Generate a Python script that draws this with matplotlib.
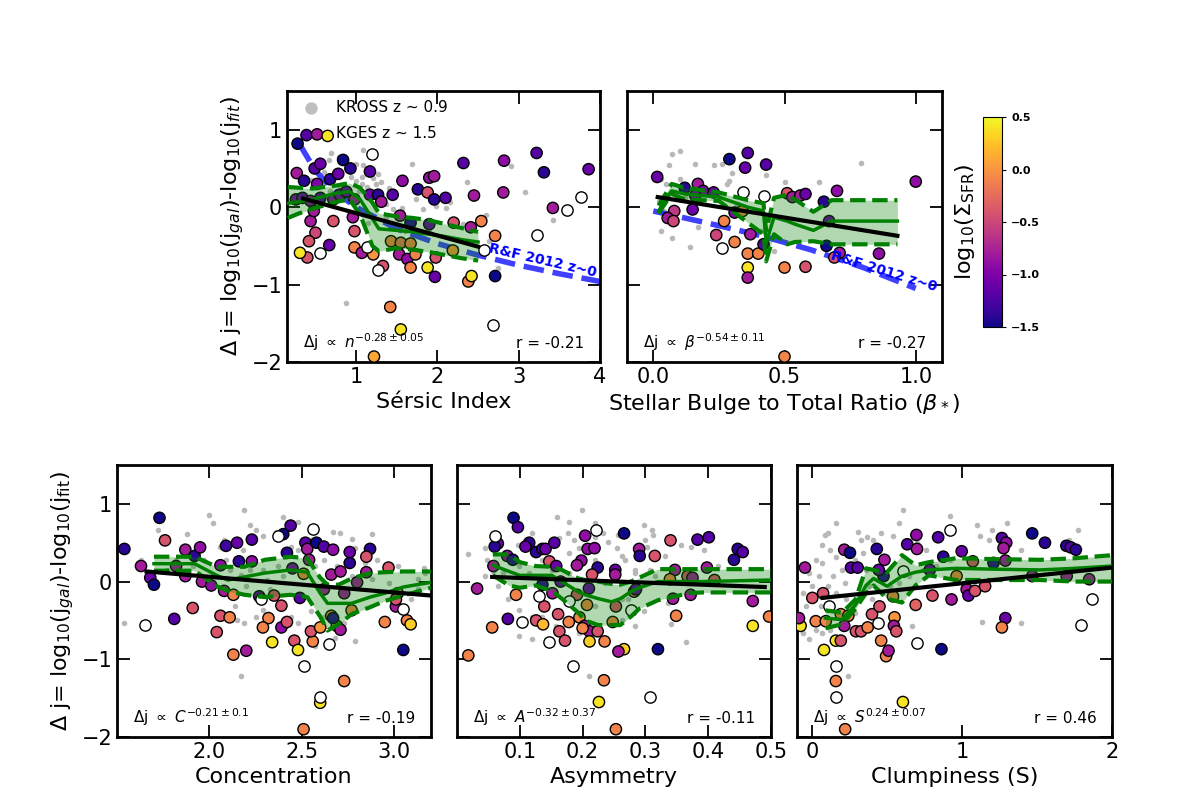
import numpy as np
import matplotlib
matplotlib.use('Agg')
import matplotlib.pyplot as plt
from matplotlib.colors import Normalize

# ---------------- data ----------------
# Sersic index panel
n_kges = [0.28, 0.39, 0.52, 0.65, 0.27, 0.49, 0.56, 0.36, 0.52, 0.68, 0.78, 0.84, 0.93, 1.17,
          0.26, 0.34, 0.44, 0.56, 0.72, 0.80, 0.88, 0.98, 0.96, 0.98, 0.44, 0.50, 0.42, 0.40,
          0.31, 0.67, 0.72, 0.48, 0.98, 1.07, 1.21, 1.33, 1.17, 1.27, 1.31, 1.45, 1.57, 1.76,
          1.90, 1.96, 1.88, 1.96, 2.10, 1.54, 1.43, 1.55, 1.67, 1.67, 1.90, 1.53, 1.63, 1.73,
          1.67, 1.88, 1.98, 1.97, 2.20, 2.19, 2.41, 2.54, 2.71, 2.38, 2.42, 2.71, 1.42, 1.55,
          1.22, 2.32, 2.82, 3.22, 3.31, 3.86, 2.81, 2.45, 3.42]
dj_n_kges = [0.82, 0.93, 0.94, 0.92, 0.44, 0.50, 0.56, 0.34, 0.30, 0.36, 0.43, 0.61, 0.50, 0.46,
             0.10, 0.12, 0.08, 0.12, 0.10, 0.16, 0.20, 0.10, -0.13, -0.31, -0.18, -0.33, -0.44, -0.65,
             -0.59, -0.49, -0.18, -0.05, -0.52, -0.59, -0.61, -0.76, 0.16, 0.16, 0.07, 0.16, 0.34, 0.23,
             0.38, 0.40, 0.19, 0.10, 0.12, -0.11, -0.44, -0.46, -0.47, -0.20, -0.22, -0.61, -0.67, -0.61,
             -0.78, -0.78, -0.65, -0.90, -0.20, -0.56, -0.26, -0.18, -0.37, -0.96, -0.89, -0.89, -1.29, -1.58,
             -1.93, 0.57, 0.60, 0.70, 0.45, 0.49, 0.19, 0.15, -0.01]
sfr_n_kges = [-1.5, -1.2, -0.8, 0.4, -0.8, -1.2, -1.1, -1.4, -1.0, -1.4, -1.1, -1.5, -1.4, -1.2,
              -1.0, -1.1, -0.9, -1.2, -0.9, -1.0, -1.1, -0.8, -0.8, -0.4, -0.8, -0.5, -0.4, -0.4,
              0.4, -1.1, -0.4, -0.8, -0.1, -0.8, 0.0, -0.4, -1.1, -1.4, -0.8, -1.2, -0.9, -1.4,
              -0.9, -0.8, -0.4, -1.4, -1.2, -0.8, -0.1, -0.2, -0.1, -1.4, -1.1, -0.8, -0.9, -0.1,
              -0.1, 0.4, -0.4, -1.1, -0.4, 0.0, -0.8, -0.1, -0.1, -0.1, 0.4, -1.5, -0.1, 0.4,
              0.1, -1.2, -0.9, -1.2, -1.4, -1.1, -0.8, -0.8, -0.8]
n_open = [1.19, 0.56, 1.13, 1.27, 2.57, 2.68, 3.59, 3.77, 3.22]
dj_n_open = [0.68, -0.59, -0.52, -0.81, -0.55, -1.52, -0.04, 0.13, -0.36]
n_kross = [0.69, 0.79, 0.67, 1.00, 1.08, 1.08, 0.88, 1.17, 1.25, 1.31, 1.07, 1.13, 1.21, 1.27,
           1.69, 2.37, 3.08, 2.90, 3.42, 0.88, 1.00, 0.94, 1.07, 1.13, 1.17, 1.03, 1.25, 1.29,
           1.37, 1.45, 1.51, 1.57, 1.74, 2.10, 2.15, 1.98, 1.82, 2.32, 2.63, 2.75, 0.84, 0.80,
           0.68, 1.37, 1.15, 1.60, 1.90, 0.60, 0.45, 0.95, 2.60, 1.40]
dj_n_kross = [0.70, 0.65, 0.61, 0.56, 0.54, 0.74, 0.56, 0.52, 0.30, 0.32, 0.39, 0.43, 0.37, 0.43,
              0.56, 0.32, 0.19, 0.53, -0.16, -1.24, 0.34, 0.39, 0.30, 0.26, 0.21, 0.21, 0.21, 0.12,
              0.04, -0.02, -0.07, -0.01, 0.10, -0.01, 0.06, 0.01, -0.03, -0.22, -0.44, -0.78, 0.30, 0.26,
              0.21, -0.13, -0.20, -0.31, -0.31, 0.45, 0.35, 0.48, -0.10, 0.25]
n_bin = [0.16, 0.30, 0.47, 0.60, 0.76, 0.92, 1.05, 1.20, 1.28, 1.50, 1.70, 1.90, 2.10, 2.30, 2.50]
n_med = [0.05, 0.07, 0.10, 0.14, 0.18, 0.20, 0.10, -0.15, -0.28, -0.30, -0.32, -0.35, -0.38, -0.42, -0.45]
n_lo = [-0.14, -0.08, -0.02, 0.02, 0.07, 0.10, -0.10, -0.50, -0.57, -0.53, -0.55, -0.58, -0.62, -0.66, -0.69]
n_hi = [0.26, 0.25, 0.24, 0.26, 0.28, 0.31, 0.25, 0.06, -0.08, -0.12, -0.14, -0.17, -0.22, -0.27, -0.32]
n_fit_x = [0.35, 2.50]
n_fit_y = [0.11, -0.51]
n_rf_x = [0.30, 0.50, 0.75, 1.00, 1.50, 2.00, 2.50, 3.00, 3.50, 4.00]
n_rf_y = [0.82, 0.47, 0.19, 0.00, -0.28, -0.47, -0.62, -0.75, -0.86, -0.96]

# bulge-to-total panel
bt_kges = [0.36, 0.29, 0.35, 0.43, 0.015, 0.17, 0.12, 0.19, 0.23, 0.51, 0.53, 0.56, 0.58, 0.70,
           0.65, 1.00, 0.08, 0.055, 0.077, 0.15, 0.31, 0.34, 0.27, 0.24, 0.31, 0.37, 0.36, 0.40,
           0.42, 0.36, 0.36, 0.50, 0.58, 0.66, 0.67, 0.71, 0.69, 0.86, 0.50, 0.16]
dj_bt_kges = [0.70, 0.62, 0.51, 0.55, 0.39, 0.30, 0.25, 0.21, 0.19, 0.18, 0.13, 0.15, 0.17, 0.21,
              0.07, 0.33, -0.05, -0.14, -0.18, -0.03, -0.07, -0.05, -0.18, -0.36, -0.45, -0.35, -0.60, -0.60,
              -0.48, -0.78, -0.91, -0.78, -0.77, -0.50, -0.18, -0.59, -0.65, -0.60, -1.93, 0.15]
sfr_bt_kges = [-1.2, -1.5, -1.1, -1.2, -1.1, -0.8, -1.4, -1.0, -1.1, -0.4, -0.8, -0.8, -1.1, -0.9,
               -1.4, -0.9, -0.6, -0.8, -0.5, -1.1, -1.0, -0.1, -0.1, -0.5, -0.1, -0.8, -0.1, -0.1,
               -1.2, 0.4, -0.8, -0.1, -0.4, -1.5, -1.1, -0.8, -0.4, -0.9, -0.1, -1.0]
bt_open = [0.34, 0.42, 0.26]
dj_bt_open = [0.19, 0.14, -0.53]
bt_kross = [0.10, 0.07, 0.06, 0.16, 0.23, 0.26, 0.30, 0.10, 0.03, 0.05, 0.28, 0.29, 0.43, 0.50,
            0.63, 0.79, 0.03, 0.07, 0.14, 0.04, 0.02, 0.17, 0.32, 0.25, 0.12, 0.06, 0.41, 0.64, 0.46]
dj_bt_kross = [0.73, 0.69, 0.54, 0.56, 0.55, 0.56, 0.44, 0.36, 0.36, 0.30, 0.30, 0.34, 0.41, 0.32,
               0.32, 0.57, -0.31, -0.40, -0.52, -0.05, 0.08, -0.26, 0.04, 0.13, 0.13, 0.17, -0.31, -0.22, -0.57]
bt_bin = [0.02, 0.07, 0.12, 0.25, 0.36, 0.42, 0.43, 0.46, 0.51, 0.54, 0.61, 0.68, 0.93]
bt_med = [-0.05, 0.21, 0.17, 0.13, 0.00, -0.05, -0.46, -0.13, -0.18, -0.22, -0.30, -0.18, -0.18]
bt_lo = [-0.08, 0.17, 0.10, 0.08, -0.20, -0.35, -0.70, -0.35, -0.48, -0.45, -0.44, -0.48, -0.48]
bt_hi = [0.02, 0.30, 0.25, 0.19, 0.09, 0.05, -0.30, 0.12, 0.16, 0.10, -0.06, 0.09, 0.09]
bt_fit_x = [0.017, 0.93]
bt_fit_y = [0.13, -0.37]
bt_rf_x = [0.00, 0.20, 0.40, 0.60, 0.80, 1.00]
bt_rf_y = [-0.05, -0.20, -0.36, -0.55, -0.78, -1.05]

# concentration panel
c_kges = [1.54, 1.73, 1.76, 1.63, 1.68, 1.70, 1.87, 1.92, 1.95, 1.82, 1.87, 1.96, 2.01, 1.91,
          1.81, 2.09, 2.15, 2.23, 2.16, 2.06, 2.23, 2.08, 2.13, 2.06, 2.11, 2.04, 2.13, 2.20,
          2.27, 2.35, 2.39, 2.32, 2.29, 2.34, 2.39, 2.42, 2.40, 2.44, 2.42, 2.45, 2.52, 2.53,
          2.58, 2.62, 2.67, 2.54, 2.51, 2.49, 2.46, 2.48, 2.56, 2.60, 2.51, 2.73, 2.55, 2.60,
          2.66, 2.69, 2.71, 2.67, 2.66, 2.71, 2.76, 2.76, 2.80, 2.87, 2.85, 2.85, 2.97, 2.73,
          2.77, 2.95, 3.02, 3.01, 3.01, 3.07, 3.09, 3.05, 2.62]
dj_c_kges = [0.42, 0.82, 0.53, 0.20, 0.05, -0.04, 0.41, 0.33, 0.44, 0.20, 0.07, 0.00, -0.05, -0.34,
             -0.48, 0.46, 0.50, 0.54, 0.26, 0.21, 0.26, -0.12, -0.17, -0.44, -0.46, -0.65, -0.94, -0.89,
             -0.19, -0.18, -0.31, -0.47, -0.59, -0.78, -0.59, -0.52, 0.61, 0.72, 0.37, 0.17, 0.50, 0.42,
             0.50, 0.45, 0.41, 0.28, 0.10, -0.21, -0.76, -0.88, -0.77, -1.56, -1.90, -1.28, -0.64, -0.59,
             -0.44, -0.57, -0.62, -0.47, 0.09, 0.13, 0.24, 0.38, -0.01, 0.42, 0.32, 0.12, 0.18, -0.15,
             -0.37, -0.52, -0.15, -0.32, -0.23, -0.50, -0.55, -0.88, -0.10]
sfr_c_kges = [-1.4, -1.5, -0.4, -0.8, -1.1, -1.5, -0.8, -1.4, -0.9, -0.8, -0.8, -0.8, -0.9, -0.4,
              -1.2, -1.3, -1.1, -1.2, -1.4, -0.9, -0.9, -0.8, -0.1, -0.4, -0.1, -0.4, -0.1, -0.8,
              -1.1, -0.4, -0.4, -0.1, -0.1, 0.4, -0.9, -0.4, -1.5, -1.2, -1.4, -1.0, -1.2, -0.8,
              -1.5, -1.2, -0.9, -0.8, -0.1, -1.2, -0.4, 0.4, -0.1, 0.4, -0.1, -0.1, -0.4, 0.0,
              -0.1, 0.4, -0.8, -1.4, -0.8, -0.8, -1.4, -1.1, -0.8, -1.4, -0.4, -0.8, -0.4, -0.8,
              -0.1, -0.1, -0.1, -0.8, -0.4, -0.1, 0.3, -1.5, -0.8]
c_open = [1.65, 2.28, 2.37, 2.56, 2.65, 2.51, 2.60, 3.05]
dj_c_open = [-0.56, -0.23, 0.59, 0.68, -0.80, -1.08, -1.49, -0.35]
c_kross = [1.54, 1.72, 1.88, 2.00, 2.02, 2.06, 2.08, 2.19, 2.22, 2.25, 2.29, 2.36, 2.40, 2.48,
           2.44, 2.48, 2.55, 2.67, 2.71, 2.77, 2.88, 2.79, 2.84, 2.91, 2.95, 3.02, 3.16, 3.17,
           3.13, 3.09, 2.14, 2.17, 2.19, 2.25, 2.29, 2.44, 2.48, 2.55, 2.62, 2.73, 2.79, 2.57,
           2.68, 1.97, 2.04, 2.11, 2.17, 2.22, 2.29, 2.37, 2.31, 2.40, 2.57, 2.62, 2.69, 2.77,
           2.88, 2.97, 3.13, 1.82, 1.91, 1.77, 1.63, 2.09, 2.18, 2.11, 2.20, 2.33, 2.15]
dj_c_kross = [-0.53, 0.67, 0.61, 0.86, 0.75, 0.45, 0.54, 0.92, 0.73, 0.67, 0.58, 0.64, 0.83, 0.77,
              0.45, 0.41, 0.54, 0.64, 0.62, 0.55, 0.61, 0.43, 0.24, 0.28, 0.15, 0.20, 0.18, 0.11,
              -0.10, -0.23, -0.32, -1.21, -0.53, -0.45, -0.36, -0.45, -0.53, -0.38, -0.45, -0.53, -0.76, -0.83,
              -0.72, 0.28, 0.20, 0.15, 0.09, 0.15, 0.15, 0.20, 0.02, 0.07, 0.20, 0.28, 0.20, 0.07,
              0.03, -0.02, 0.03, 0.28, 0.20, 0.15, 0.28, 0.28, 0.41, -0.19, -0.06, -0.10, -0.49]
c_bin = [1.70, 1.92, 2.04, 2.10, 2.19, 2.30, 2.44, 2.53, 2.60, 2.64, 2.70, 2.77, 2.87, 2.95, 3.05, 3.20]
c_med = [0.23, 0.23, 0.08, 0.02, 0.06, 0.11, 0.15, 0.12, -0.15, -0.28, -0.28, -0.28, -0.20, -0.15, -0.07, -0.01]
c_lo = [0.14, 0.14, -0.06, -0.12, -0.17, -0.20, -0.17, -0.20, -0.45, -0.63, -0.55, -0.42, -0.33, -0.25, -0.18, -0.08]
c_hi = [0.32, 0.32, 0.19, 0.19, 0.19, 0.28, 0.32, 0.30, 0.05, -0.04, -0.04, 0.04, 0.11, 0.12, 0.13, 0.13]
c_fit_x = [1.66, 3.20]
c_fit_y = [0.13, -0.18]

# asymmetry panel
a_kges = [0.018, 0.032, 0.090, 0.097, 0.065, 0.060, 0.080, 0.089, 0.058, 0.115, 0.109, 0.126, 0.136, 0.141,
          0.155, 0.147, 0.158, 0.165, 0.136, 0.152, 0.094, 0.204, 0.208, 0.219, 0.198, 0.191, 0.224, 0.252,
          0.252, 0.215, 0.210, 0.191, 0.207, 0.253, 0.282, 0.139, 0.161, 0.126, 0.137, 0.178, 0.195, 0.163,
          0.172, 0.081, 0.056, 0.203, 0.211, 0.224, 0.200, 0.211, 0.235, 0.248, 0.266, 0.257, 0.320, 0.234,
          0.226, 0.253, 0.266, 0.290, 0.291, 0.315, 0.340, 0.383, 0.401, 0.447, 0.455, 0.441, 0.347, 0.367,
          0.375, 0.398, 0.410, 0.339, 0.344, 0.349, 0.372, 0.471, 0.471, 0.497, 0.285]
dj_a_kges = [-0.95, -0.09, 0.82, 0.70, 0.49, 0.45, 0.33, 0.28, 0.20, 0.50, 0.45, 0.38, 0.42, 0.42,
             0.50, 0.26, 0.20, 0.00, -0.04, -0.15, -0.17, 0.59, 0.42, 0.43, 0.27, 0.21, 0.18, 0.15,
             0.09, 0.09, -0.09, -0.17, -0.30, -0.32, -0.13, -0.32, -0.42, -0.50, -0.55, -0.52, -0.46, -0.64,
             -0.76, -0.48, -0.59, -0.57, -0.64, -0.64, -0.60, -0.77, -0.77, -0.52, -0.87, -0.90, -0.87, -1.27,
             -1.55, -1.90, 0.62, 0.42, 0.33, 0.33, 0.53, 0.54, 0.57, 0.42, 0.38, 0.28, 0.15, 0.07,
             0.05, 0.18, 0.02, 0.03, -0.22, -0.44, -0.17, -0.25, -0.57, -0.45, -0.10]
sfr_a_kges = [-0.1, -0.8, -1.5, -1.2, -1.1, -1.4, -0.9, -1.4, -0.8, -1.4, -1.1, -1.4, -1.3, -1.1,
              -1.2, -0.4, -1.1, -1.1, -1.4, -0.8, -0.1, -0.9, -0.9, -0.9, -0.9, -0.8, -1.4, -1.1,
              -0.8, -0.4, -1.1, -0.4, -0.1, -0.4, -0.4, -0.4, -0.4, -0.4, 0.2, -0.1, -0.1, -0.4,
              -0.4, -1.2, -0.1, -0.8, -0.8, -0.4, -0.1, 0.3, -0.1, -0.1, 0.3, -0.8, -1.5, -0.1,
              0.4, -0.1, -1.5, -0.8, -1.4, -0.4, -0.4, -1.2, -1.2, -1.4, -1.2, -1.4, -0.8, -0.4,
              -0.8, -0.8, -0.4, -0.1, -0.8, -0.1, -0.8, -0.8, 0.4, -0.1, -1.1]
a_open = [0.060, 0.131, 0.104, 0.147, 0.185, 0.308, 0.222, 0.277, 0.178]
dj_a_open = [0.59, -0.19, -0.52, -0.78, -1.08, -1.49, 0.67, -0.36, -0.25]
a_kross = [0.018, 0.044, 0.057, 0.097, 0.120, 0.160, 0.178, 0.199, 0.220, 0.163, 0.176, 0.187, 0.194, 0.220,
           0.233, 0.241, 0.257, 0.255, 0.262, 0.268, 0.297, 0.310, 0.312, 0.299, 0.302, 0.331, 0.357, 0.373,
           0.394, 0.415, 0.444, 0.307, 0.283, 0.236, 0.204, 0.178, 0.152, 0.115, 0.099, 0.073, 0.044, 0.065,
           0.081, 0.099, 0.120, 0.099, 0.120, 0.136, 0.157, 0.194, 0.210, 0.252, 0.273, 0.297, 0.336, 0.341,
           0.365, 0.262, 0.283, 0.220, 0.262, 0.283, 0.315, 0.047, 0.136, 0.178, 0.220]
dj_a_kross = [0.35, 0.43, 0.13, 0.47, 0.62, 0.83, 0.77, 0.92, 0.75, 0.56, 0.62, 0.54, 0.43, 0.57,
              0.62, 0.51, 0.60, 0.43, 0.33, 0.28, 0.73, 0.67, 0.60, 0.54, 0.45, 0.33, 0.47, 0.45,
              0.41, 0.20, 0.26, 0.15, 0.11, -0.02, 0.02, 0.11, 0.15, 0.11, 0.20, 0.11, 0.07, -0.06,
              -0.23, -0.36, -0.45, -0.70, -0.74, -0.45, -0.57, -0.66, -1.21, -0.32, -0.23, -0.38, -0.28, -0.55,
              -0.78, -0.49, -0.57, -0.32, -0.23, 0.15, 0.07, 0.28, 0.28, 0.37, 0.28]
a_bin = [0.057, 0.083, 0.10, 0.125, 0.151, 0.167, 0.193, 0.204, 0.225, 0.246, 0.26, 0.277, 0.29, 0.32,
         0.33, 0.37, 0.39, 0.50]
a_med = [0.21, 0.13, 0.08, 0.08, 0.08, 0.00, -0.13, -0.17, -0.22, -0.26, -0.22, -0.13, -0.08, 0.00,
         0.00, 0.00, 0.00, 0.02]
a_lo = [0.08, -0.05, -0.08, -0.05, -0.12, -0.22, -0.40, -0.50, -0.56, -0.56, -0.56, -0.45, -0.35, -0.24,
        -0.22, -0.15, -0.14, -0.14]
a_hi = [0.35, 0.35, 0.25, 0.20, 0.19, 0.15, 0.04, 0.02, 0.00, -0.03, -0.04, 0.00, 0.05, 0.16,
        0.16, 0.16, 0.16, 0.16]
a_fit_x = [0.056, 0.49]
a_fit_y = [0.06, -0.07]

# clumpiness panel
s_kges = [-0.047, -0.076, -0.087, 0.025, 0.074, 0.002, 0.080, 0.215, 0.253, 0.260, 0.304, 0.092, 0.192, 0.242,
          0.215, 0.159, 0.192, 0.159, 0.221, 0.293, 0.327, 0.371, 0.400, 0.450, 0.461, 0.494, 0.510, 0.550,
          0.546, 0.562, 0.432, 0.483, 0.477, 0.445, 0.540, 0.635, 0.696, 0.700, 0.691, 0.803, 0.785, 0.841,
          0.863, 0.875, 0.930, 0.964, 0.998, 1.031, 1.043, 1.087, 1.072, 1.154, 1.210, 1.289, 1.266, 1.295,
          1.277, 1.289, 1.266, 1.468, 1.553, 1.468, 1.696, 1.725, 1.759, 1.698, 1.848, 0.606]
dj_s_kges = [0.18, -0.57, -0.47, -0.51, -0.15, -0.21, -0.88, 0.41, 0.37, 0.18, 0.18, -0.51, -0.42, -0.44,
             -0.57, -0.76, -0.76, -1.28, -1.90, -0.64, -0.64, -0.59, -0.42, -0.32, -0.76, -0.96, -0.89, -0.46,
             -0.57, -0.64, 0.42, 0.28, 0.07, 0.15, -0.19, 0.48, 0.60, 0.42, -0.30, -0.18, 0.15, 0.57,
             -0.87, 0.32, -0.23, 0.07, 0.39, -0.10, -0.18, -0.12, 0.26, -0.06, 0.24, 0.27, 0.56, 0.50,
             0.43, -0.47, -0.59, 0.62, 0.50, 0.07, 0.46, 0.44, 0.41, 0.07, 0.03, -1.55]
sfr_s_kges = [-0.8, 0.4, -0.8, -0.1, -0.4, -0.4, 0.4, -0.8, -1.5, -1.2, -1.2, -0.1, -0.1, -0.1,
              -0.8, 0.4, -0.4, -0.1, -0.1, -0.4, -0.4, -0.1, -0.4, -0.4, -0.1, -0.1, -0.8, 0.0,
              -0.8, -0.4, -1.4, -0.8, -1.4, -1.1, -0.1, -1.2, -0.9, -0.8, -0.3, -0.4, -1.1, -1.2,
              -1.5, -1.4, -0.8, -0.1, -1.1, -0.8, -1.1, -0.4, -0.4, -0.4, -1.4, -0.8, -1.2, -0.9,
              -0.8, -1.1, -0.1, -1.5, -1.4, -0.8, -1.4, -1.2, -1.4, -0.8, -0.8, 0.4]
s_open = [0.114, 0.159, 0.159, 0.438, 0.610, 0.702, 0.919, 1.866, 1.792]
dj_s_open = [-0.32, -1.09, -1.49, -0.53, 0.13, -0.79, 0.67, -0.23, -0.56]
s_kross = [0.16, 0.11, 0.09, 0.31, 0.33, 0.37, 0.41, 0.46, 0.61, 0.58, 0.54, 0.07, 0.12, 0.16,
           0.03, 0.07, -0.02, 0.05, 0.14, 0.20, 0.29, 0.34, 0.36, 0.22, 0.11, 0.00, -0.06, -0.04,
           -0.06, -0.02, 0.03, 0.12, 0.24, 0.29, 0.40, 0.52, 0.58, 0.65, 0.74, 0.83, 0.92, 0.92,
           1.10, 1.12, 1.18, 1.20, 1.30, 1.39, 1.39, 1.13, 1.77, 1.71, 0.70, 0.76, 0.67, 0.38,
           0.23, 0.16, 0.06, 0.07]
dj_s_kross = [0.76, 0.62, 0.60, 0.64, 0.54, 0.57, 0.54, 0.62, 0.92, 0.75, 0.58, 0.47, 0.41, 0.32,
              0.28, 0.24, 0.11, 0.07, 0.07, 0.15, 0.28, 0.37, 0.15, -0.02, -0.06, -0.06, -0.15, -0.32,
              -0.66, -0.74, -0.62, -0.62, -1.21, -0.40, -0.23, -0.06, -0.02, 0.07, 0.15, 0.20, 0.28, 0.85,
              0.73, 0.58, 0.54, 0.67, 0.75, 0.41, -0.53, -0.52, 0.67, 0.54, 0.50, 0.41, -0.57, -0.06,
              -0.23, -0.15, -0.32, -0.66]
s_bin = [0.09, 0.20, 0.29, 0.36, 0.41, 0.50, 0.60, 0.69, 0.78, 0.96, 1.20, 1.52, 1.75, 2.00]
s_med = [-0.47, -0.49, -0.30, -0.05, 0.04, -0.06, 0.07, 0.12, 0.15, 0.17, 0.16, 0.15, 0.17, 0.20]
s_lo = [-0.60, -0.55, -0.35, -0.15, -0.05, -0.22, -0.27, -0.05, 0.08, 0.02, 0.02, 0.02, 0.00, 0.00]
s_hi = [-0.37, -0.40, -0.23, 0.17, 0.15, 0.12, 0.34, 0.21, 0.25, 0.30, 0.29, 0.28, 0.30, 0.34]
s_fit_x = [0.07, 2.00]
s_fit_y = [-0.21, 0.18]

fit_texts = [r'$\Delta$j $\propto$ $n^{-0.28\pm0.05}$', r'$\Delta$j $\propto$ $\beta^{-0.54\pm0.11}$',
             r'$\Delta$j $\propto$ $C^{-0.21\pm0.1}$', r'$\Delta$j $\propto$ $A^{-0.32\pm0.37}$',
             r'$\Delta$j $\propto$ $S^{0.24\pm0.07}$']
r_texts = ['r = -0.21', 'r = -0.27', 'r = -0.19', 'r = -0.11', 'r = 0.46']
xlabels = ['Sérsic Index', r'Stellar Bulge to Total Ratio ($\beta_*$)', 'Concentration', 'Asymmetry', 'Clumpiness (S)']

norm = Normalize(vmin=-1.5, vmax=0.5)
cmap = plt.get_cmap('plasma')


def panel(ax, xk, yk, ck, xo, yo, xg, yg, xb, med, lo, hi, fx, fy, ftext, rtext):
    ax.scatter(xg, yg, s=16, color='0.72', lw=0, zorder=1)
    ax.scatter(xk, yk, c=ck, cmap=cmap, norm=norm, s=66, edgecolors='k', linewidths=1, zorder=3)
    ax.scatter(xo, yo, s=66, facecolors='white', edgecolors='k', linewidths=1, zorder=3)
    ax.fill_between(xb, lo, hi, color='green', alpha=0.3, lw=0, zorder=4)
    ax.plot(xb, lo, '--', color='green', lw=3, zorder=5)
    ax.plot(xb, hi, '--', color='green', lw=3, zorder=5)
    ax.plot(xb, med, '-', color='green', lw=2.5, zorder=5)
    ax.plot(fx, fy, '-', color='k', lw=3, zorder=6)
    ax.text(0.05, 0.05, ftext, transform=ax.transAxes, fontsize=11, zorder=7)
    ax.text(0.95, 0.05, rtext, transform=ax.transAxes, fontsize=11, ha='right', zorder=7)
    ax.set_ylim(-2, 1.5)
    ax.set_yticks([-2, -1, 0, 1])
    ax.tick_params(direction='in', length=9, width=1.3, top=True, right=True, labelsize=15)
    for sp in ax.spines.values():
        sp.set_linewidth(2)


W, H = 1196, 811
fig = plt.figure(figsize=(W / 100, H / 100), dpi=100)

def box(l, t, r, b):
    return [l / W, 1 - b / H, (r - l) / W, (b - t) / H]

ax1 = fig.add_axes(box(287, 91, 600, 362))
ax2 = fig.add_axes(box(627, 91, 942, 362))
ax3 = fig.add_axes(box(117, 465, 431, 737))
ax4 = fig.add_axes(box(457, 465, 771, 737))
ax5 = fig.add_axes(box(797, 465, 1112, 737))
cax = fig.add_axes(box(983, 117, 1002, 327))

ax1.plot(n_rf_x, n_rf_y, '--', color='blue', alpha=0.75, lw=4, zorder=2)
ax2.plot(bt_rf_x, bt_rf_y, '--', color='blue', alpha=0.75, lw=4, zorder=2)

panel(ax1, n_kges, dj_n_kges, sfr_n_kges, n_open, dj_n_open, n_kross, dj_n_kross,
      n_bin, n_med, n_lo, n_hi, n_fit_x, n_fit_y, fit_texts[0], r_texts[0])
panel(ax2, bt_kges, dj_bt_kges, sfr_bt_kges, bt_open, dj_bt_open, bt_kross, dj_bt_kross,
      bt_bin, bt_med, bt_lo, bt_hi, bt_fit_x, bt_fit_y, fit_texts[1], r_texts[1])
panel(ax3, c_kges, dj_c_kges, sfr_c_kges, c_open, dj_c_open, c_kross, dj_c_kross,
      c_bin, c_med, c_lo, c_hi, c_fit_x, c_fit_y, fit_texts[2], r_texts[2])
panel(ax4, a_kges, dj_a_kges, sfr_a_kges, a_open, dj_a_open, a_kross, dj_a_kross,
      a_bin, a_med, a_lo, a_hi, a_fit_x, a_fit_y, fit_texts[3], r_texts[3])
panel(ax5, s_kges, dj_s_kges, sfr_s_kges, s_open, dj_s_open, s_kross, dj_s_kross,
      s_bin, s_med, s_lo, s_hi, s_fit_x, s_fit_y, fit_texts[4], r_texts[4])

ax1.set_xlim(0.15, 4.0); ax1.set_xticks([1, 2, 3, 4])
ax2.set_xlim(-0.1, 1.1); ax2.set_xticks([0.0, 0.5, 1.0])
ax3.set_xlim(1.5, 3.2); ax3.set_xticks([2.0, 2.5, 3.0])
ax4.set_xlim(0.0, 0.5); ax4.set_xticks([0.1, 0.2, 0.3, 0.4, 0.5])
ax5.set_xlim(-0.1, 2.0); ax5.set_xticks([0, 1, 2])

for ax in (ax2, ax4, ax5):
    ax.set_yticklabels([])
for ax, lab in zip((ax1, ax2, ax3, ax4, ax5), xlabels):
    ax.set_xlabel(lab, fontsize=16)

ax1.set_ylabel(r'$\Delta$ j= log$_{10}$(j$_{gal}$)-log$_{10}$(j$_{fit}$)', fontsize=16)
ax3.set_ylabel(r'$\Delta$ j= log$_{10}$(j$_{gal}$)-log$_{10}$(j$_{\rm fit}$)', fontsize=16)

ax1.text(3.3, -0.69, 'R&F 2012 z~0', color='blue', fontsize=10, fontweight='bold',
         rotation=-13, ha='center', va='center', zorder=7)
ax2.text(0.88, -0.83, 'R&F 2012 z~0', color='blue', fontsize=10, fontweight='bold',
         rotation=-17, ha='center', va='center', zorder=7)

h1 = ax1.scatter([], [], s=80, color='0.75', lw=0)
h2 = ax1.scatter([], [], s=80, facecolors='none', edgecolors='none')
ax1.legend([h1, h2], ['KROSS z ~ 0.9', 'KGES z ~ 1.5'], loc='upper left',
           frameon=False, fontsize=11, handletextpad=0.6, borderaxespad=0.2, labelspacing=0.7)

sm = plt.cm.ScalarMappable(norm=norm, cmap=cmap)
cb = fig.colorbar(sm, cax=cax, ticks=[-1.5, -1.0, -0.5, 0.0, 0.5])
cb.ax.tick_params(labelsize=8, length=3)
for t in cb.ax.get_yticklabels():
    t.set_fontweight('bold')
cb.ax.yaxis.set_label_position('left')
cb.set_label(r'log$_{10}$($\Sigma_{\rm SFR}$)', fontsize=16)

fig.savefig('out.png', dpi=100)
